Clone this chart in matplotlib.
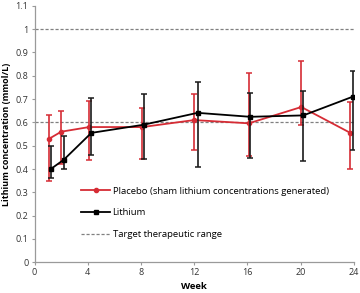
import matplotlib
matplotlib.use("Agg")
import matplotlib.pyplot as plt
from matplotlib.ticker import FuncFormatter
from matplotlib.container import ErrorbarContainer

plt.rcParams['font.family'] = ['Open Sans', 'DejaVu Sans']

# placebo (sham lithium) series
placebo_week = [1.1, 2.0, 4.1, 8.1, 12.0, 16.1, 20.05, 23.7]
placebo_mean = [0.53, 0.56, 0.58, 0.58, 0.61, 0.596, 0.666, 0.556]
placebo_low = [0.35, 0.42, 0.44, 0.445, 0.48, 0.456, 0.588, 0.40]
placebo_high = [0.63, 0.65, 0.69, 0.66, 0.72, 0.813, 0.864, 0.688]

# lithium series
lithium_week = [1.22, 2.2, 4.27, 8.2, 12.25, 16.2, 20.2, 23.9]
lithium_mean = [0.40, 0.44, 0.555, 0.59, 0.641, 0.624, 0.63, 0.71]
lithium_low = [0.36, 0.40, 0.46, 0.445, 0.41, 0.446, 0.435, 0.482]
lithium_high = [0.50, 0.54, 0.705, 0.72, 0.774, 0.724, 0.734, 0.82]

target_range = [0.6, 1.0]

red = '#d62c35'
fig = plt.figure(figsize=(3.6, 2.93), dpi=100)
ax = fig.add_axes([0.096, 0.105, 0.887, 0.875])

# target range lines
for i, t in enumerate(target_range):
    ax.axhline(t, color='#808080', lw=0.9, ls=(0, (2.5, 1.5)),
               label='Target therapeutic range' if i == 0 else None, zorder=1)

p_err = [[m - l for m, l in zip(placebo_mean, placebo_low)],
         [h - m for m, h in zip(placebo_mean, placebo_high)]]
l_err = [[m - l for m, l in zip(lithium_mean, lithium_low)],
         [h - m for m, h in zip(lithium_mean, lithium_high)]]

ax.errorbar(placebo_week, placebo_mean, yerr=p_err, color=red, ecolor=red,
            elinewidth=1.2, capsize=2.5, capthick=1.1, lw=1.3, marker='o', ms=3,
            label='Placebo (sham lithium concentrations generated)', zorder=3)
ax.errorbar(lithium_week, lithium_mean, yerr=l_err, color='black', ecolor='#1a1a1a',
            elinewidth=1.2, capsize=2.5, capthick=1.1, lw=1.3, marker='s', ms=2.8,
            label='Lithium', zorder=4)

ax.set_xlim(0, 24)
ax.set_ylim(0, 1.1)
ax.set_xticks(range(0, 25, 4))
ax.set_yticks([i / 10 for i in range(12)])
ax.yaxis.set_major_formatter(FuncFormatter(lambda v, p: ('%g' % round(v, 1))))

for s in ['top', 'right']:
    ax.spines[s].set_visible(False)
for s in ['left', 'bottom']:
    ax.spines[s].set_color('#9a9a9a')
    ax.spines[s].set_linewidth(0.9)
ax.tick_params(axis='both', labelsize=6.5, colors='#9a9a9a', labelcolor='#333333',
               length=2.5, width=0.8, pad=2)

ax.set_xlabel('Week', fontsize=6.8, fontweight='bold', labelpad=3)
ax.set_ylabel('Lithium concentration (mmol/L)', fontsize=6.5, fontweight='bold', labelpad=3)

handles, labels = ax.get_legend_handles_labels()
# legend shows plain line+marker, no error bars
handles = [h[0] if isinstance(h, ErrorbarContainer) else h for h in handles]
order = [labels.index('Placebo (sham lithium concentrations generated)'),
         labels.index('Lithium'), labels.index('Target therapeutic range')]
ax.legend([handles[i] for i in order], [labels[i] for i in order],
          loc='lower left', bbox_to_anchor=(0.135, 0.075), frameon=False,
          fontsize=6.8, handlelength=3, handletextpad=0.3, labelspacing=1.35,
          borderaxespad=0)

fig.savefig('out.png', dpi=100)
